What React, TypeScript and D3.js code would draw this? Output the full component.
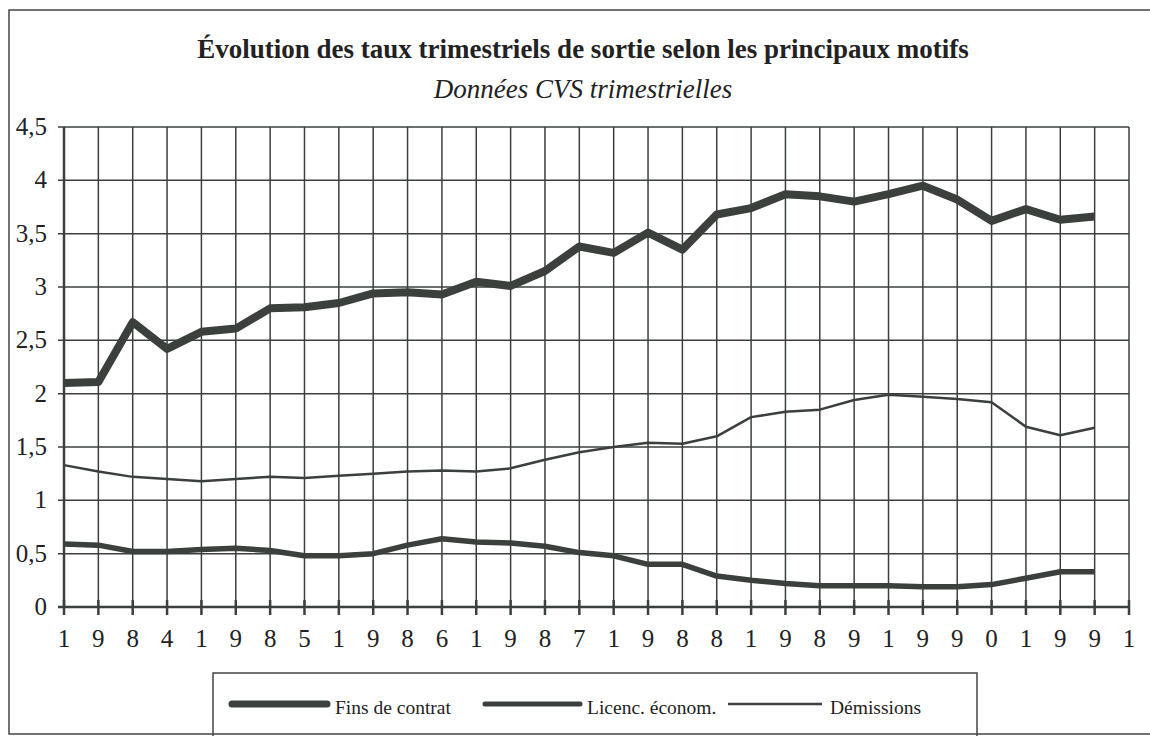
import { useEffect, useRef } from 'react';
import * as d3 from 'd3';

// x-axis labels: the year digits spread over the quarter ticks
const xLabels = ['1', '9', '8', '4', '1', '9', '8', '5', '1', '9', '8', '6', '1', '9', '8', '7',
    '1', '9', '8', '8', '1', '9', '8', '9', '1', '9', '9', '0', '1', '9', '9', '1'];
const yTicks = [0, 0.5, 1, 1.5, 2, 2.5, 3, 3.5, 4, 4.5];

// quarterly series, 1984 Q1 -> 1991 Q3
const finsContrat = [2.10, 2.11, 2.67, 2.42, 2.58, 2.61, 2.80, 2.81, 2.85, 2.94, 2.95, 2.93, 3.05, 3.01, 3.15, 3.38,
    3.32, 3.51, 3.35, 3.68, 3.74, 3.87, 3.85, 3.80, 3.87, 3.95, 3.82, 3.62, 3.73, 3.63, 3.66];
const licencEconom = [0.59, 0.58, 0.52, 0.52, 0.54, 0.55, 0.53, 0.48, 0.48, 0.50, 0.58, 0.64, 0.61, 0.60, 0.57, 0.51,
    0.48, 0.40, 0.40, 0.29, 0.25, 0.22, 0.20, 0.20, 0.20, 0.19, 0.19, 0.21, 0.27, 0.33, 0.33];
const demissions = [1.33, 1.27, 1.22, 1.20, 1.18, 1.20, 1.22, 1.21, 1.23, 1.25, 1.27, 1.28, 1.27, 1.30, 1.38, 1.45,
    1.50, 1.54, 1.53, 1.60, 1.78, 1.83, 1.85, 1.94, 1.99, 1.97, 1.95, 1.92, 1.69, 1.61, 1.68];

const seriesNames = ['Fins de contrat', 'Licenc. économ.', 'Démissions'];

const ink = '#3b403d';
const serif = 'Liberation Serif';

const App = () => {
    const ref = useRef<SVGSVGElement>(null);

    useEffect(() => {
        const svg = d3.select(ref.current);
        svg.selectAll('*').remove();

        const x = d3.scaleLinear().domain([0, xLabels.length - 1]).range([64, 1129]);
        const y = d3.scaleLinear().domain([0, 4.5]).range([607, 127]);

        // outer frame
        svg.append('path')
            .attr('d', 'M1150,10 H9 V734 H1150')
            .attr('fill', 'none')
            .attr('stroke', '#444')
            .attr('stroke-width', 1.5);

        // titles
        svg.append('text')
            .attr('x', 583).attr('y', 58)
            .attr('text-anchor', 'middle')
            .attr('font-family', serif)
            .attr('font-weight', 'bold')
            .attr('font-size', 27)
            .attr('fill', '#222')
            .text('Évolution des taux trimestriels de sortie selon les principaux motifs');
        svg.append('text')
            .attr('x', 583).attr('y', 98)
            .attr('text-anchor', 'middle')
            .attr('font-family', serif)
            .attr('font-style', 'italic')
            .attr('font-size', 27)
            .attr('fill', '#222')
            .text('Données CVS trimestrielles');

        // horizontal grid + y labels
        yTicks.forEach(t => {
            svg.append('line')
                .attr('x1', x(0) - 6).attr('x2', x(xLabels.length - 1))
                .attr('y1', y(t)).attr('y2', y(t))
                .attr('stroke', ink)
                .attr('stroke-width', t === 0 ? 2.5 : 1.5);
            svg.append('text')
                .attr('x', 47).attr('y', y(t) + 8)
                .attr('text-anchor', 'end')
                .attr('font-family', serif)
                .attr('font-size', 25)
                .attr('fill', '#222')
                .text(String(t).replace('.', ','));
        });

        // vertical grid, ticks and x labels
        xLabels.forEach((lab, i) => {
            svg.append('line')
                .attr('x1', x(i)).attr('x2', x(i))
                .attr('y1', y(4.5)).attr('y2', y(0))
                .attr('stroke', ink)
                .attr('stroke-width', i === 0 ? 2.5 : 1.5);
            svg.append('line')
                .attr('x1', x(i)).attr('x2', x(i))
                .attr('y1', y(0) - 7).attr('y2', y(0) + 8)
                .attr('stroke', ink)
                .attr('stroke-width', 2.5);
            svg.append('text')
                .attr('x', x(i)).attr('y', 647)
                .attr('text-anchor', 'middle')
                .attr('font-family', serif)
                .attr('font-size', 25)
                .attr('fill', '#222')
                .text(lab);
        });

        // series
        const line = d3.line<number>()
            .x((d, i) => x(i))
            .y(d => y(d));
        const series = [
            { values: finsContrat, width: 8 },
            { values: licencEconom, width: 5.5 },
            { values: demissions, width: 2.5 },
        ];
        series.forEach(s => {
            svg.append('path')
                .datum(s.values)
                .attr('d', line)
                .attr('fill', 'none')
                .attr('stroke', ink)
                .attr('stroke-width', s.width)
                .attr('stroke-linejoin', 'round');
        });

        // legend
        svg.append('path')
            .attr('d', 'M213,736 V673 H977 V736')
            .attr('fill', 'none')
            .attr('stroke', '#444')
            .attr('stroke-width', 1.5);
        const legendItems = [
            { x0: 232, x1: 327, tx: 335, width: 7, cap: 'round' },
            { x0: 485, x1: 580, tx: 587, width: 5, cap: 'round' },
            { x0: 728, x1: 822, tx: 830, width: 2.5, cap: 'butt' },
        ];
        legendItems.forEach((it, i) => {
            svg.append('line')
                .attr('x1', it.x0).attr('x2', it.x1)
                .attr('y1', 704).attr('y2', 704)
                .attr('stroke', ink)
                .attr('stroke-width', it.width)
                .attr('stroke-linecap', it.cap);
            svg.append('text')
                .attr('x', it.tx).attr('y', 714)
                .attr('font-family', serif)
                .attr('font-size', 19.5)
                .attr('fill', '#222')
                .text(seriesNames[i]);
        });

        return () => { svg.selectAll('*').remove(); };
    }, []);

    return (
        <svg ref={ref} width={1150} height={736}
            style={{ position: 'absolute', left: 0, top: 0, background: 'white' }} />
    );
};

export default App;
